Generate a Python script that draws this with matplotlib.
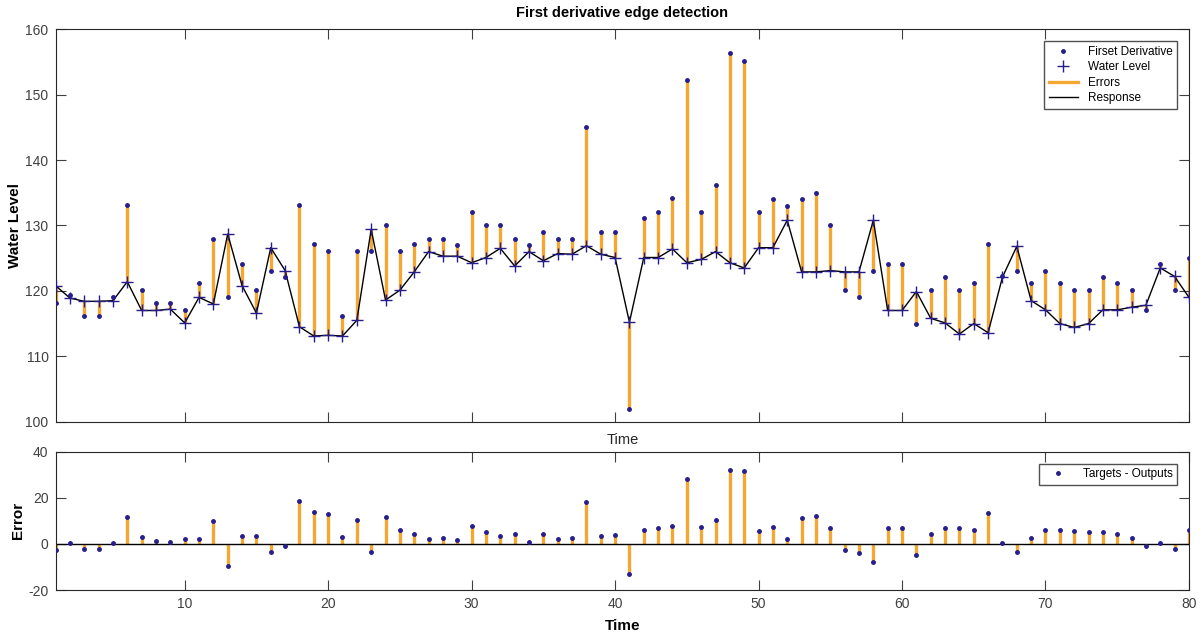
import numpy as np
import matplotlib.pyplot as plt

plt.rcParams['font.family'] = ['Liberation Sans', 'DejaVu Sans']
plt.rcParams['axes.unicode_minus'] = False

# time steps
time = list(range(1, 81))

# targets (first derivative points)
targets = [118.1, 119.3, 116.1, 116.1, 119.0, 133.1, 120.1, 118.1, 118.1, 117.1,
           121.2, 128.0, 119.1, 124.1, 120.1, 123.1, 122.1, 133.1, 127.1, 126.1,
           116.1, 126.1, 126.1, 130.1, 126.1, 127.1, 128.0, 128.0, 127.0, 132.1,
           130.1, 130.0, 128.0, 127.0, 129.0, 128.0, 128.0, 145.1, 129.0, 129.0,
           102.0, 131.1, 132.1, 134.2, 152.3, 132.1, 136.2, 156.3, 155.2, 132.0,
           134.0, 133.0, 134.0, 135.0, 130.0, 120.1, 119.1, 123.1, 124.1, 124.1,
           115.0, 120.1, 122.1, 120.1, 121.2, 127.1, 122.3, 123.1, 121.2, 123.1,
           121.2, 120.1, 120.1, 122.1, 121.2, 120.1, 117.1, 124.1, 120.1, 125.1]

# model response (water level)
outputs = [120.8, 118.9, 118.4, 118.4, 118.5, 121.4, 117.0, 117.0, 117.2, 115.1,
           119.0, 118.0, 128.7, 120.8, 116.6, 126.6, 123.1, 114.5, 113.1, 113.2,
           113.1, 115.5, 129.4, 118.6, 120.1, 122.9, 126.0, 125.3, 125.3, 124.3,
           125.1, 126.5, 123.8, 126.0, 124.6, 125.7, 125.6, 126.9, 125.6, 125.1,
           115.2, 125.1, 125.1, 126.4, 124.3, 124.8, 126.0, 124.3, 123.5, 126.6,
           126.6, 130.8, 122.9, 122.9, 123.1, 122.9, 122.9, 130.8, 117.0, 117.0,
           119.9, 115.8, 115.1, 113.4, 115.0, 113.6, 122.1, 126.8, 118.5, 117.1,
           115.0, 114.4, 115.0, 117.1, 117.1, 117.5, 117.8, 123.5, 122.2, 119.0]

t = np.array(time)
tgt = np.array(targets)
out = np.array(outputs)
err = tgt - out

orange = '#F4A732'
navy = '#261E8C'
tick_col = '#404040'

fig = plt.figure(figsize=(12, 6.34), dpi=100)
ax1 = fig.add_axes([0.0463, 0.3349, 0.9445, 0.619])
ax2 = fig.add_axes([0.0463, 0.0694, 0.9445, 0.218])

# top panel
ax1.vlines(t, out, tgt, color=orange, linewidth=2.4, zorder=1)
ax1.plot(t, tgt, '.', color=navy, markersize=5, zorder=3, label='Firset Derivative')
ax1.plot(t, out, '+', color=navy, markersize=8, markeredgewidth=1.0, zorder=4, label='Water Level')
ax1.plot([], [], color=orange, linewidth=2.4, label='Errors')
ax1.plot(t, out, color='black', linewidth=1.0, zorder=2, label='Response')
ax1.set_xlim(1, 80)
ax1.set_ylim(100, 160)
ax1.set_xticks(range(10, 81, 10))
ax1.set_xticklabels([])
ax1.set_yticks(range(100, 161, 10))
ax1.set_title('First derivative edge detection', fontsize=10.5, fontweight='bold', pad=9)
ax1.set_xlabel('Time', fontsize=10.5, color='#262626', labelpad=3)
ax1.set_ylabel('Water Level', fontsize=11, fontweight='bold')
ax1.yaxis.set_label_coords(-0.0296, 0.5)
ax1.legend(loc='upper right', fontsize=8.5, frameon=True, fancybox=False,
           edgecolor='#262626', handlelength=2.5, borderaxespad=1.0,
           labelspacing=0.3, borderpad=0.4)

# bottom panel
ax2.vlines(t, 0, err, color=orange, linewidth=2.4, zorder=1)
ax2.axhline(0, color='black', linewidth=1.0, zorder=2)
ax2.plot(t, err, '.', color=navy, markersize=5, zorder=3, label='Targets - Outputs')
ax2.set_xlim(1, 80)
ax2.set_ylim(-20, 40)
ax2.set_xticks(range(10, 81, 10))
ax2.set_yticks([-20, 0, 20, 40])
ax2.set_xlabel('Time', fontsize=11, fontweight='bold', labelpad=6)
ax2.set_ylabel('Error', fontsize=11, fontweight='bold')
ax2.yaxis.set_label_coords(-0.0271, 0.5)
ax2.legend(loc='upper right', fontsize=8.5, frameon=True, fancybox=False,
           edgecolor='#262626', handlelength=2.5, borderaxespad=1.0, borderpad=0.4)

for ax in (ax1, ax2):
    ax.tick_params(direction='in', length=7.5, width=0.8, top=True, right=True,
                   labelsize=10, colors=tick_col, labelcolor='#404040', pad=5)
    for s in ax.spines.values():
        s.set_color('#262626')
        s.set_linewidth(0.8)

fig.savefig('out.png', dpi=100)
